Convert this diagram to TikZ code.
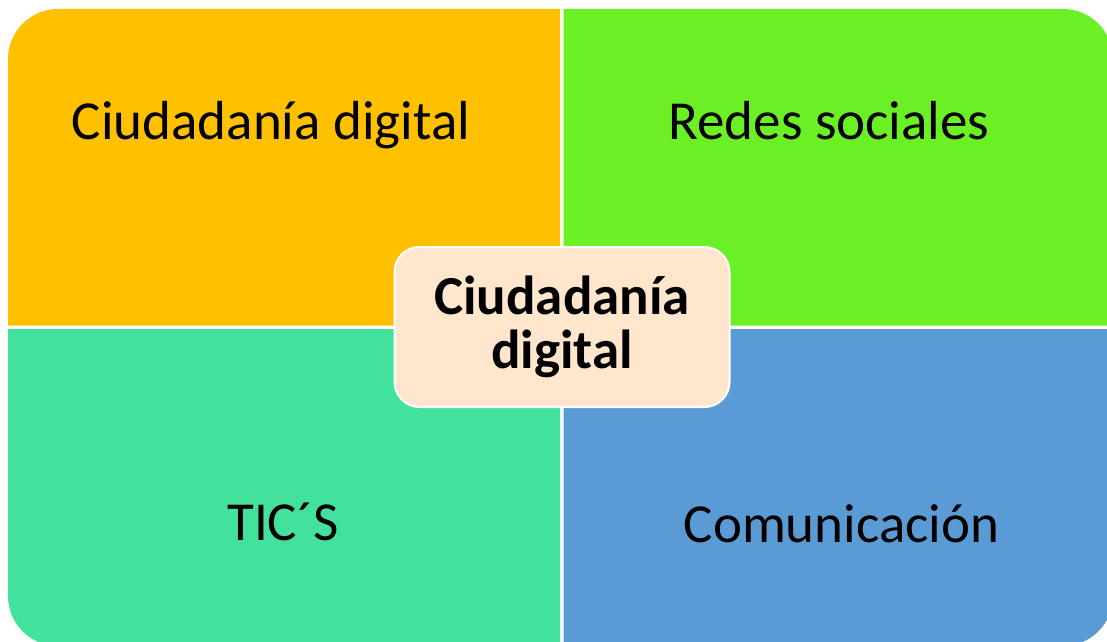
\documentclass[tikz,border=0pt]{standalone}
\usepackage{fontspec}
\setmainfont{Carlito}
\definecolor{naranja}{HTML}{FFC000}
\definecolor{verde}{HTML}{6AF024}
\definecolor{turquesa}{HTML}{43E29C}
\definecolor{azul}{HTML}{5B9BD5}
\definecolor{melocoton}{HTML}{FFE6CC}
\tikzset{
  etiqueta/.style={anchor=base, inner sep=0pt, font=\fontsize{55}{60}\selectfont},
  centro/.style={fill=melocoton, draw=white, line width=2pt, rounded corners=25pt,
    minimum width=335pt, minimum height=160pt, align=center,
    font=\bfseries\fontsize{55}{54}\selectfont}
}
\begin{document}
\begin{tikzpicture}[x=1pt,y=1pt]
				\useasboundingbox (0,0) rectangle (1107,641);
				\fill[white] (0,0) rectangle (1107,641);
				\coordinate (M) at (562,314);
				\def\r{50}
				\fill[naranja] (560,315.5) -- (8,315.5) -- (8,582) arc[start angle=180, end angle=90, radius=\r] -- (560,632) -- cycle;
				\fill[verde] (563.5,315.5) -- (563.5,632) -- (1063,632) arc[start angle=90, end angle=0, radius=\r] -- (1113,315.5) -- cycle;
				\fill[turquesa] (560,312) -- (8,312) -- (8,45) arc[start angle=180, end angle=270, radius=\r] -- (560,-5) -- cycle;
				\fill[azul] (563.5,312) -- (563.5,-5) -- (1063,-5) arc[start angle=270, end angle=360, radius=\r] -- (1113,312) -- cycle;
				\node[etiqueta] (ciudadania) at (271,501) {Ciudadanía digital};
				\node[etiqueta] (redes) at (829,501) {Redes sociales};
				\node[etiqueta] (tics) at (283,101) {TIC´S};
				\node[etiqueta] (comunicacion) at (841.5,99) {Comunicación};
				\node[centro] (nucleo) at (M) {Ciudadanía\\digital};
			\end{tikzpicture}
\end{document}
